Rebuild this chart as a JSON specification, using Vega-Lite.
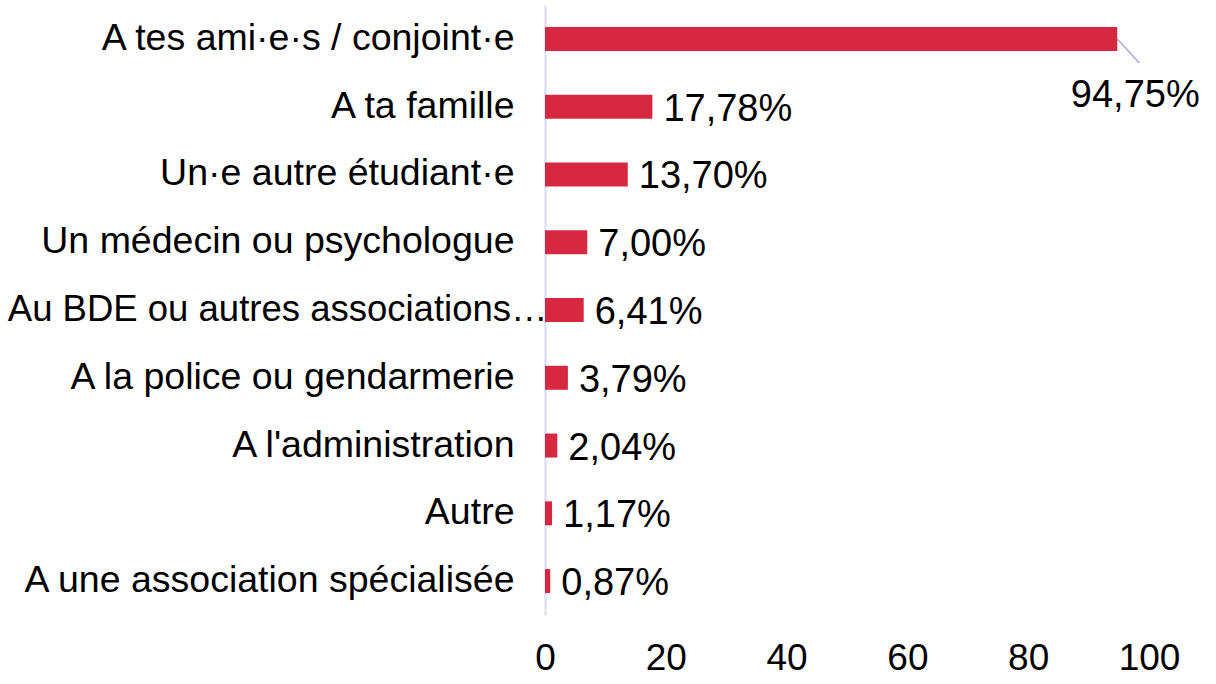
{
  "$schema": "https://vega.github.io/schema/vega-lite/v6.json",
  "autosize": {"type": "none"},
  "width": 604,
  "height": 610,
  "padding": {"left": 545, "top": 5, "right": 67, "bottom": 69},
  "background": "white",
  "config": {
    "view": {"stroke": null},
    "font": "Liberation Sans",
    "axis": {"labelFont": "Liberation Sans", "labelColor": "#000000", "grid": false, "ticks": false}
  },
  "data": {
    "values": [
      {"cat": "A tes ami·e·s / conjoint·e", "value": 94.75, "label": "94,75%"},
      {"cat": "A ta famille", "value": 17.78, "label": "17,78%"},
      {"cat": "Un·e autre étudiant·e", "value": 13.70, "label": "13,70%"},
      {"cat": "Un médecin ou psychologue", "value": 7.00, "label": "7,00%"},
      {"cat": "Au BDE ou autres associations…", "value": 6.41, "label": "6,41%"},
      {"cat": "A la police ou gendarmerie", "value": 3.79, "label": "3,79%"},
      {"cat": "A l'administration", "value": 2.04, "label": "2,04%"},
      {"cat": "Autre", "value": 1.17, "label": "1,17%"},
      {"cat": "A une association spécialisée", "value": 0.87, "label": "0,87%"}
    ]
  },
  "encoding": {
    "y": {
      "field": "cat", "type": "nominal", "sort": null,
      "scale": {"paddingInner": 0.646, "paddingOuter": 0.323},
      "axis": {
        "title": null, "domain": true, "domainColor": "#d9d9ef", "domainWidth": 2,
        "labelFontSize": {"condition": {"test": "indexof(datum.value, 'BDE') >= 0", "value": 36.5}, "value": 37.5},
        "labelLimit": 0,
        "labelPadding": {"condition": {"test": "indexof(datum.value, 'BDE') >= 0", "value": -2}, "value": 31}
      }
    }
  },
  "layer": [
    {
      "mark": {"type": "bar", "color": "#d62840"},
      "encoding": {
        "x": {
          "field": "value", "type": "quantitative",
          "scale": {"domain": [0, 100], "nice": false, "zero": true},
          "axis": {"title": null, "domain": false, "values": [0, 20, 40, 60, 80, 100], "labelFontSize": 37, "labelPadding": 25, "labelFlush": false}
        }
      }
    },
    {
      "transform": [{"filter": "datum.value < 50"}],
      "mark": {"type": "text", "align": "left", "baseline": "middle", "dx": 11, "dy": 3, "fontSize": 38, "color": "#000000"},
      "encoding": {
        "x": {"field": "value", "type": "quantitative"},
        "text": {"field": "label"}
      }
    },
    {
      "transform": [{"filter": "datum.value >= 50"}],
      "mark": {"type": "rule", "color": "#a8a8e0", "strokeWidth": 1.5, "x2Offset": 22, "y2Offset": 24},
      "encoding": {
        "x": {"field": "value", "type": "quantitative"},
        "x2": {"field": "value"},
        "y2": {"field": "cat"}
      }
    },
    {
      "transform": [{"filter": "datum.value >= 50"}],
      "mark": {"type": "text", "align": "center", "baseline": "middle", "dx": 18, "dy": 57, "fontSize": 38, "color": "#000000"},
      "encoding": {
        "x": {"field": "value", "type": "quantitative"},
        "text": {"field": "label"}
      }
    }
  ]
}
